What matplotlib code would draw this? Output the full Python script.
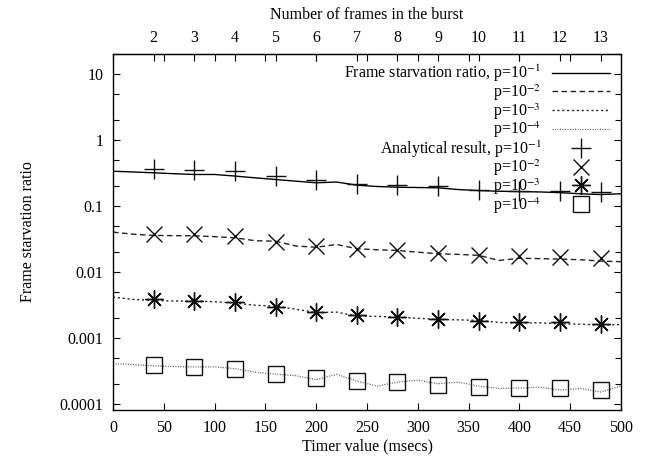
import matplotlib
matplotlib.use('Agg')
import matplotlib.pyplot as plt
from matplotlib.ticker import LogLocator, NullFormatter, FixedLocator

plt.rcParams['font.family'] = ['Liberation Serif', 'DejaVu Serif']
plt.rcParams['mathtext.fontset'] = 'stix'
plt.rcParams['font.size'] = 11.5

# simulation curves, sampled every 20 msec
timer = [0, 20, 40, 60, 80, 100, 120, 140, 160, 180, 200, 220, 240,
         260, 280, 300, 320, 340, 360, 380, 400, 420, 440, 460, 480, 500]
sim_p1 = [0.334, 0.325, 0.316, 0.306, 0.298, 0.298, 0.282, 0.265, 0.25, 0.236,
          0.223, 0.229, 0.205, 0.196, 0.191, 0.189, 0.187, 0.176, 0.17, 0.166,
          0.164, 0.162, 0.158, 0.152, 0.148, 0.152]
sim_p2 = [0.0398, 0.037, 0.0355, 0.0352, 0.035, 0.034, 0.0327, 0.0295, 0.029, 0.0245,
          0.0235, 0.0259, 0.0223, 0.0215, 0.021, 0.0198, 0.0187, 0.0183, 0.0177, 0.0148,
          0.016, 0.0158, 0.0155, 0.0152, 0.0145, 0.0142]
sim_p3 = [0.00412, 0.0038, 0.00365, 0.0036, 0.00359, 0.0035, 0.00335, 0.0031, 0.003, 0.0027,
          0.0024, 0.00244, 0.00212, 0.0021, 0.00205, 0.00197, 0.00189, 0.00186, 0.00183, 0.0017,
          0.00166, 0.00168, 0.00162, 0.0016, 0.00155, 0.00158]
sim_p4 = [0.000404, 0.00039, 0.000375, 0.000365, 0.00036, 0.00036, 0.00034, 0.0003, 0.00028,
          0.000265, 0.000231, 0.000278, 0.00022, 0.000184, 0.000212, 0.000226, 0.0002,
          0.000212, 0.000184, 0.00017, 0.000172, 0.000178, 0.00016, 0.00017, 0.00015, 0.000185]

# analytical results at each burst size
burst_timer = [40, 80, 120, 160, 200, 240, 280, 320, 360, 400, 440, 480]
burst_frames = ['2', '3', '4', '5', '6', '7', '8', '9', '10', '11', '12', '13']
ana_p1 = [0.364, 0.343, 0.334, 0.278, 0.242, 0.215, 0.203, 0.196, 0.175, 0.17, 0.165, 0.16]
ana_p2 = [0.0367, 0.0367, 0.0343, 0.0281, 0.0242, 0.0218, 0.021, 0.0194, 0.0177, 0.0175, 0.017, 0.016]
ana_p3 = [0.0038, 0.00359, 0.00346, 0.00291, 0.00244, 0.00218, 0.00205, 0.00194, 0.00179,
          0.00175, 0.0017, 0.0016]
ana_p4 = [0.00038, 0.000357, 0.000339, 0.000285, 0.000248, 0.00022, 0.000212, 0.000194,
          0.000179, 0.000175, 0.00017, 0.00016]

fig = plt.figure(figsize=(6.48, 4.58), dpi=100)
ax = fig.add_axes([113/648, 1 - 410/458, 508/648, 356/458])

ax.plot(timer, sim_p1, color='black', lw=1.0, label='Frame starvation ratio, p=10$^{-1}$')
ax.plot(timer, sim_p2, color='#222222', lw=1.0, dashes=(4, 2.5), label='p=10$^{-2}$')
ax.plot(timer, sim_p3, color='#222222', lw=1.0, dashes=(1.5, 2), label='p=10$^{-3}$')
ax.plot(timer, sim_p4, color='#555555', lw=0.9, dashes=(0.8, 1.2), label='p=10$^{-4}$')

ax.plot(burst_timer, ana_p1, ls='none', marker='+', ms=14, mew=1.0, color='#111111',
        label='Analytical result, p=10$^{-1}$')
ax.plot(burst_timer, ana_p2, ls='none', marker='x', ms=12, mew=1.0, color='#111111',
        label='p=10$^{-2}$')
ax.plot(burst_timer, ana_p3, ls='none', marker=(8, 2, 0), ms=13, mew=1.0, color='#111111',
        label='p=10$^{-3}$')
ax.plot(burst_timer, ana_p4, ls='none', marker='s', ms=12, mew=1.0, mfc='none', mec='#111111',
        label='p=10$^{-4}$')

ax.set_yscale('log')
ax.set_xlim(0, 500)
ax.set_ylim(8e-5, 20)
ax.set_xticks(range(0, 501, 50))
ax.yaxis.set_major_locator(FixedLocator([1e-4, 1e-3, 1e-2, 1e-1, 1, 10]))
ax.set_yticklabels(['0.0001', '0.001', '0.01', '0.1', '1', '10'])
ax.yaxis.set_minor_locator(LogLocator(base=10, subs=[2, 5], numticks=20))
ax.yaxis.set_minor_formatter(NullFormatter())
ax.tick_params(which='both', direction='in', top=True, right=True)
ax.tick_params(which='major', length=5, width=0.8, pad=7)
ax.tick_params(which='minor', length=4, width=0.8)
for s in ax.spines.values():
    s.set_linewidth(1.0)

sec = ax.secondary_xaxis('top')
sec.set_xticks(burst_timer, burst_frames)
sec.tick_params(direction='in', length=5, width=0.8, pad=6)
sec.set_xlabel('Number of frames in the burst', labelpad=8)

ax.set_xlabel('Timer value (msecs)', labelpad=2)
ax.set_ylabel('Frame starvation ratio', labelpad=17)

ax.legend(loc='upper right', bbox_to_anchor=(0.978, 0.975), markerfirst=False,
          frameon=False, handlelength=3.6, handletextpad=0.7, labelspacing=-0.12,
          borderpad=0, borderaxespad=0)

fig.savefig('out.png', dpi=100)
